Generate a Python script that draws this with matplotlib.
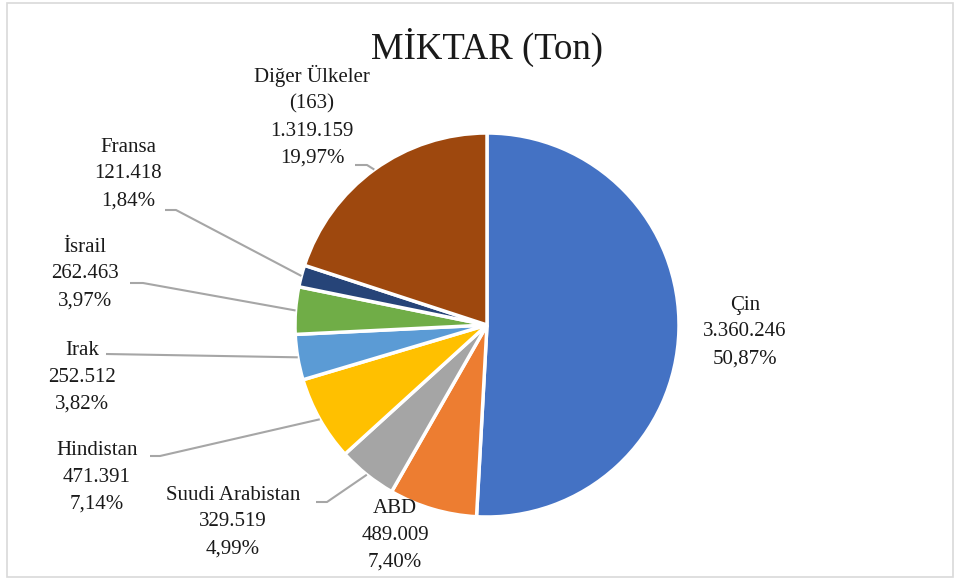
import numpy as np
import matplotlib
matplotlib.use('Agg')
import matplotlib.pyplot as plt
from matplotlib.patches import Rectangle

plt.rcParams['font.family'] = ['Liberation Serif', 'DejaVu Serif']

# data
countries = ['Çin', 'ABD', 'Suudi Arabistan', 'Hindistan', 'Irak', 'İsrail', 'Fransa', 'Diğer Ülkeler\n(163)']
tons = [3360246, 489009, 329519, 471391, 252512, 262463, 121418, 1319159]
shares = ['50,87%', '7,40%', '4,99%', '7,14%', '3,82%', '3,97%', '1,84%', '19,97%']
colors = ['#4472C4', '#ED7D31', '#A5A5A5', '#FFC000', '#5B9BD5', '#70AD47', '#264478', '#9E480E']

W, H = 960, 580
cx, cy, R = 487, 325, 192

def fy(y):
    # pixel row (top down) -> data y
    return H - y

def fmt(v):
    return '{:,}'.format(v).replace(',', '.')

fig = plt.figure(figsize=(9.6, 5.8), dpi=100)
ax = fig.add_axes([0, 0, 1, 1])

wedges, _ = ax.pie(tons, colors=colors, startangle=90, counterclock=False,
                   center=(cx, fy(cy)), radius=R,
                   wedgeprops=dict(edgecolor='white', linewidth=2.5))
ax.set_xlim(0, W)
ax.set_ylim(0, H)
ax.set_aspect('equal')
ax.axis('off')

# label centres and leader elbows (pixels, top-down); None = no leader
label_pos = [(745, 332), (395, 535), (233, 522), (97, 477), (82, 377), (85, 274), (128, 174), (312, 116)]
elbows = [None, None, [(316, 502), (327, 502)], [(150, 456), (160, 456)], [(106, 354)],
          [(130, 283), (143, 283)], [(165, 210), (176, 210)], [(355, 165), (367, 165)]]

total = sum(tons)
cum = 0
for i, v in enumerate(tons):
    mid = (cum + v / 2) / total
    cum += v
    ang = np.deg2rad(90 - 360 * mid)
    px, py = cx + R * np.cos(ang), cy - R * np.sin(ang)
    lx, ly = label_pos[i]
    ax.text(lx, fy(ly), countries[i] + '\n' + fmt(v) + '\n' + shares[i],
            ha='center', va='center', multialignment='center',
            fontsize=15, linespacing=1.54, color='#1a1a1a')
    if elbows[i] is not None:
        pts = elbows[i] + [(px, py)]
        ax.plot([p[0] for p in pts], [fy(p[1]) for p in pts], color='#a6a6a6', lw=1.5,
                solid_capstyle='butt')

ax.text(487, fy(47), 'MİKTAR (Ton)', ha='center', va='center', fontsize=26.5, color='#1a1a1a')

fig.patches.append(Rectangle((7 / W, 3 / H), 946 / W, 574 / H, transform=fig.transFigure,
                             fill=False, edgecolor='#d9d9d9', lw=1.2))

plt.savefig('out.png', dpi=100)
